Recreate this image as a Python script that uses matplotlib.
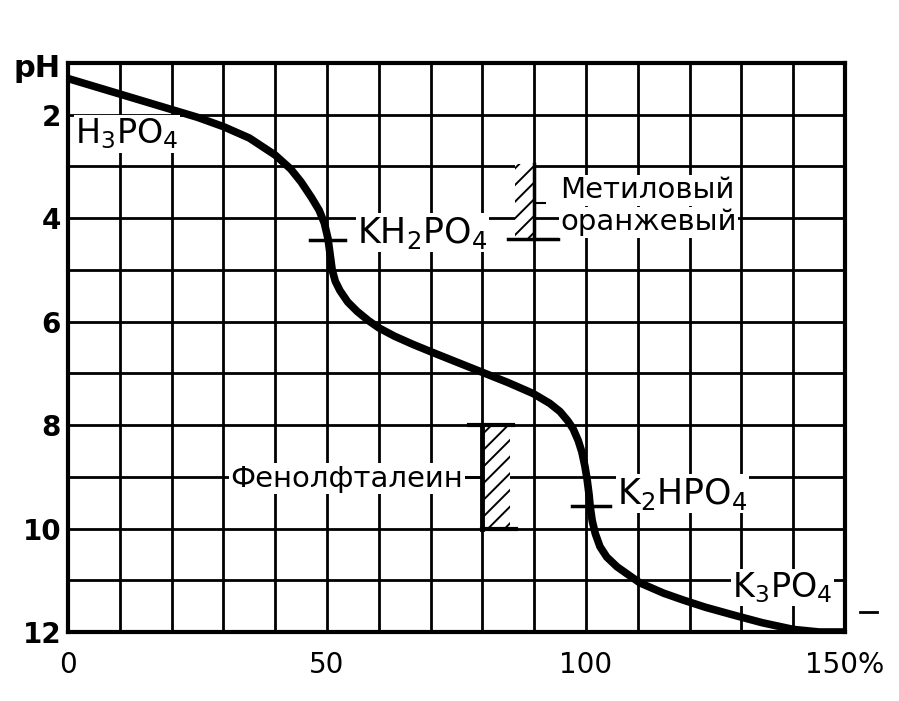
import matplotlib
matplotlib.use("Agg")
import matplotlib.pyplot as plt

plt.rcParams['font.family'] = ['DejaVu Sans']
plt.rcParams['mathtext.default'] = 'regular'
plt.rcParams['hatch.linewidth'] = 1.4

# кривая титрования H3PO4 (% KOH -> pH)
kon = [0, 5, 10, 15, 20, 25, 30, 35, 40, 43, 45, 47, 48.5, 49.5, 50.2, 50.6,
       51, 51.6, 52.5, 54, 55.8, 58, 60, 63, 66.6, 70, 75, 80, 85, 89.8, 93,
       95, 96.5, 97.5, 98.5, 99.2, 99.8, 100.2, 100.6, 100.8, 101.2, 101.8,
       102.7, 104, 106, 110.4, 115, 118.7, 123, 128.4, 134, 140, 145, 150]
ph = [1.3, 1.45, 1.6, 1.75, 1.9, 2.05, 2.23, 2.45, 2.78, 3.05, 3.3, 3.6, 3.85,
      4.1, 4.4, 4.7, 5.0, 5.22, 5.4, 5.62, 5.8, 5.98, 6.12, 6.28, 6.44, 6.58,
      6.78, 6.98, 7.18, 7.39, 7.58, 7.74, 7.92, 8.07, 8.3, 8.52, 8.8, 9.04,
      9.35, 9.57, 9.85, 10.1, 10.35, 10.55, 10.74, 11.05, 11.25, 11.38, 11.52,
      11.67, 11.82, 11.95, 12.0, 12.0]

x_ticks = list(range(0, 151, 10))
x_labels = ['0', '', '', '', '', '50', '', '', '', '', '100', '', '', '', '', '150%']
y_ticks = list(range(2, 13))
y_labels = ['2', '', '4', '', '6', '', '8', '', '10', '', '12']

# индикаторы: (x0, x1, pH0, pH1)
metil = (86.3, 90, 2.95, 4.41)
fenol = (80, 85.3, 8.03, 10.0)

fig = plt.figure(figsize=(8.99, 7.01), dpi=100)
ax = fig.add_axes([68 / 899, 1 - 632 / 701, (845 - 68) / 899, (632 - 63) / 701])

ax.set_xlim(0, 150)
ax.set_ylim(12, 1)
ax.set_xticks(x_ticks)
ax.set_xticklabels(x_labels, fontsize=20)
ax.set_yticks(y_ticks)
ax.set_yticklabels(y_labels, fontsize=20, fontweight='bold')
ax.tick_params(length=0)
ax.tick_params(axis='x', pad=14)
ax.tick_params(axis='y', pad=5)
ax.grid(True, color='black', linewidth=2.0)
for s in ax.spines.values():
    s.set_linewidth(3)
ax.text(-1.5, 1.1, 'pH', fontsize=22, fontweight='bold', ha='right', va='center')

ax.plot(kon, ph, color='black', linewidth=5.5, solid_capstyle='round',
        solid_joinstyle='round', zorder=5)

txt = dict(color='black', va='center', zorder=6,
           bbox=dict(facecolor='white', edgecolor='none', pad=1))

# метиловый оранжевый
ax.fill_between([metil[0], metil[1]], metil[2], metil[3], facecolor='white',
                edgecolor='black', hatch='//', linewidth=0, zorder=3)
ax.plot([85, 94.5], [metil[3], metil[3]], color='black', linewidth=2.5, zorder=4)
ax.plot([90, 90], [metil[2], metil[3]], color='black', linewidth=2.5, zorder=4)
ax.plot([90, 92], [3.7, 3.7], color='black', linewidth=1.5, zorder=4)
ax.text(95, 3.46, 'Метиловый', fontsize=21, ha='left', **txt)
ax.text(95, 4.08, 'оранжевый', fontsize=21, ha='left', **txt)

# фенолфталеин
ax.fill_between([fenol[0], fenol[1]], fenol[2], fenol[3], facecolor='white',
                edgecolor='black', hatch='//', linewidth=0, zorder=3)
ax.plot([fenol[0], fenol[0]], [fenol[2], fenol[3]], color='black', linewidth=3.5, zorder=4)
ax.plot([77.5, 86], [8.0, 8.0], color='black', linewidth=3, zorder=4)
ax.plot([80, 86.5], [10.0, 10.0], color='black', linewidth=3, zorder=4)
ax.plot([76, 80], [9.0, 9.0], color='black', linewidth=2, zorder=4)
ax.text(76.3, 9.04, 'Фенолфталеин', fontsize=21, ha='right', **txt)

# соли
ax.text(1.35, 2.37, 'H$_3$PO$_4$', fontsize=24, ha='left', **txt)
ax.plot([46.7, 53.5], [4.43, 4.43], color='black', linewidth=2.5, zorder=6)
ax.text(55.8, 4.28, 'KH$_2$PO$_4$', fontsize=25, ha='left', **txt)
ax.plot([97.3, 104.6], [9.57, 9.57], color='black', linewidth=2.5, zorder=6)
ax.text(106, 9.33, 'K$_2$HPO$_4$', fontsize=25, ha='left', **txt)
ax.text(128.2, 11.14, 'K$_3$PO$_4$', fontsize=24, ha='left', **txt)

ax.plot([152.9, 156.2], [11.61, 11.61], color='black', linewidth=2, clip_on=False)

fig.savefig('out.png', dpi=100)
